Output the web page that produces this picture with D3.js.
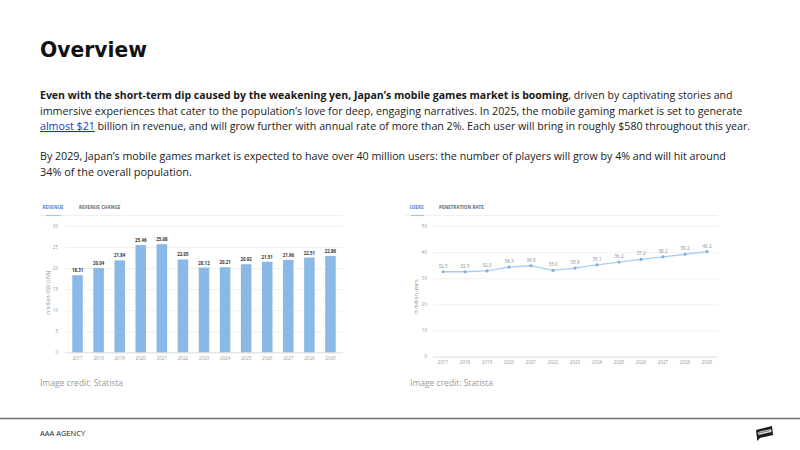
<!DOCTYPE html>
<html><head><meta charset="utf-8">
<script src="https://cdn.jsdelivr.net/npm/d3@7"></script>
<style>
html,body{margin:0;padding:0;background:#fff;}
svg{display:block;}
</style></head>
<body>
<svg id="c" width="800" height="450"></svg>
<script>
// ---------- data ----------
const years = ["2017","2018","2019","2020","2021","2022","2023","2024","2025","2026","2027","2028","2029"];
const revenue = [18.31,20.04,21.84,25.46,25.68,22.05,20.12,20.21,20.92,21.51,21.96,22.51,22.86];
const revenueTicks = [0,5,10,15,20,25,30];
const users = [32.5,32.5,32.8,34.3,34.8,33.0,33.9,35.1,36.2,37.2,38.2,39.2,40.2];
const userTicks = [0,10,20,30,40,50];
const leftTabs = ["REVENUE","REVENUE CHANGE"];
const rightTabs = ["USERS","PENETRATION RATE"];

const svg = d3.select("#c");
const FONT = "'Open Sans', 'Noto Sans', sans-serif";

// ---------- title ----------
svg.append("text").attr("x",40).attr("y",57)
  .attr("font-family","'DejaVu Sans', sans-serif").attr("font-weight","bold")
  .attr("font-size",22).attr("fill","#111").attr("textLength",107).attr("lengthAdjust","spacingAndGlyphs")
  .text("Overview");

// ---------- paragraph ----------
const lines = [
  {y:99, end:733, parts:[{t:"Even with the short-term dip caused by the weakening yen, Japan’s mobile games market is booming",b:true},{t:", driven by captivating stories and"}]},
  {y:115, end:743, parts:[{t:"immersive experiences that cater to the population’s love for deep, engaging narratives. In 2025, the mobile gaming market is set to generate"}]},
  {y:130, end:751, parts:[{t:"almost $21",link:true},{t:" billion in revenue, and will grow further with annual rate of more than 2%. Each user will bring in roughly $580 throughout this year."}]},
  {y:160, end:727, parts:[{t:"By 2029, Japan’s mobile games market is expected to have over 40 million users: the number of players will grow by 4% and will hit around"}]},
  {y:176, end:192, parts:[{t:"34% of the overall population."}]}
];
lines.forEach(l=>{
  const els = l.parts.map(p=>{
    const t = svg.append("text").attr("y",l.y).attr("x",40)
      .attr("font-family",FONT).attr("font-size",11).attr("fill","#1a1a1a")
      .attr("xml:space","preserve").style("white-space","pre").text(p.t);
    if(p.b) t.attr("font-weight","bold");
    if(p.link) t.attr("fill","#1a33d6").attr("text-decoration","underline");
    return t;
  });
  const total0 = d3.sum(els.map(e=>e.node().getComputedTextLength()));
  const fs = Math.min(11.3, 11*(l.end-40)/total0);
  els.forEach(e=>e.attr("font-size",fs));
  let x = 40;
  els.forEach(e=>{
    e.attr("x",x);
    x += e.node().getComputedTextLength();
  });
});

// ---------- left chart (bars) ----------
const yL = d3.scaleLinear().domain([0,30]).range([352.3,226]);
const xL = d3.scaleBand().domain(years).range([67,341]).paddingInner(0.5).paddingOuter(0.25);
const gL = svg.append("g");
gL.append("line").attr("x1",40).attr("x2",343).attr("y1",215.5).attr("y2",215.5).attr("stroke","#f0f0f0");
gL.append("text").attr("x",42.5).attr("y",209).attr("font-family",FONT).attr("font-size",4.6).attr("font-weight","bold").attr("fill","#4f84d4").text(leftTabs[0]);
gL.append("text").attr("x",79).attr("y",209).attr("font-family",FONT).attr("font-size",4.6).attr("font-weight","bold").attr("fill","#5c6e80").text(leftTabs[1]);
gL.append("line").attr("x1",46).attr("x2",61).attr("y1",215.5).attr("y2",215.5).attr("stroke","#9fc4ee").attr("stroke-width",1.2);
gL.selectAll("line.g").data(revenueTicks).join("line").attr("class","g")
  .attr("x1",65).attr("x2",343).attr("y1",d=>yL(d)+0.5).attr("y2",d=>yL(d)+0.5)
  .attr("stroke",d=>d===0?"#dcdcdc":"#f0f0f0").attr("stroke-width",1);
gL.selectAll("text.yt").data(revenueTicks).join("text").attr("class","yt")
  .attr("x",58).attr("y",d=>yL(d)+1.6).attr("text-anchor","end")
  .attr("font-family",FONT).attr("font-size",4.5).attr("fill","#9a9a9a").text(d=>d);
gL.append("text").attr("transform","translate(50,293) rotate(-90)").attr("text-anchor","middle")
  .attr("font-family",FONT).attr("font-size",5).attr("fill","#8a8a8a").text("in billion USD (US$)");
gL.selectAll("rect.b").data(revenue).join("rect").attr("class","b")
  .attr("x",(d,i)=>xL(years[i])).attr("width",xL.bandwidth())
  .attr("y",d=>yL(d)).attr("height",d=>yL(0)-yL(d)).attr("fill","#8bb9e7");
gL.selectAll("text.v").data(revenue).join("text").attr("class","v")
  .attr("x",(d,i)=>xL(years[i])+xL.bandwidth()/2).attr("y",d=>yL(d)-3)
  .attr("text-anchor","middle").attr("font-family",FONT).attr("font-size",4.4).attr("font-weight","bold")
  .attr("fill","#333").text(d=>d.toFixed(2));
gL.selectAll("text.xt").data(years).join("text").attr("class","xt")
  .attr("x",d=>xL(d)+xL.bandwidth()/2).attr("y",360).attr("text-anchor","middle")
  .attr("font-family",FONT).attr("font-size",4.5).attr("fill","#9a9a9a").text(d=>d);

// ---------- right chart (line) ----------
const yR = d3.scaleLinear().domain([0,50]).range([356.7,226]);
const xR = d3.scalePoint().domain(years).range([443,707]);
const gR = svg.append("g");
gR.append("line").attr("x1",405).attr("x2",718).attr("y1",215.5).attr("y2",215.5).attr("stroke","#f0f0f0");
gR.append("text").attr("x",409.5).attr("y",209).attr("font-family",FONT).attr("font-size",4.6).attr("font-weight","bold").attr("fill","#4f84d4").text(rightTabs[0]);
gR.append("text").attr("x",439).attr("y",209).attr("font-family",FONT).attr("font-size",4.6).attr("font-weight","bold").attr("fill","#5c6e80").text(rightTabs[1]);
gR.append("line").attr("x1",411).attr("x2",424).attr("y1",215.5).attr("y2",215.5).attr("stroke","#9fc4ee").attr("stroke-width",1.2);
gR.selectAll("line.g").data(userTicks).join("line").attr("class","g")
  .attr("x1",433).attr("x2",718).attr("y1",d=>yR(d)+0.5).attr("y2",d=>yR(d)+0.5)
  .attr("stroke",d=>d===0?"#dcdcdc":"#f0f0f0").attr("stroke-width",1);
gR.selectAll("text.yt").data(userTicks).join("text").attr("class","yt")
  .attr("x",427).attr("y",d=>yR(d)+1.6).attr("text-anchor","end")
  .attr("font-family",FONT).attr("font-size",4.5).attr("fill","#9a9a9a").text(d=>d);
gR.append("text").attr("transform","translate(418,297) rotate(-90)").attr("text-anchor","middle")
  .attr("font-family",FONT).attr("font-size",5).attr("fill","#8a8a8a").text("in million users");
const line = d3.line().x((d,i)=>xR(years[i])).y(d=>yR(d));
gR.append("path").datum(users).attr("d",line).attr("fill","none").attr("stroke","#a9cdf0").attr("stroke-width",1.3);
gR.selectAll("circle").data(users).join("circle")
  .attr("cx",(d,i)=>xR(years[i])).attr("cy",d=>yR(d)).attr("r",1.6).attr("fill","#7fb0e4");
gR.selectAll("text.v").data(users).join("text").attr("class","v")
  .attr("x",(d,i)=>xR(years[i])).attr("y",d=>yR(d)-4)
  .attr("text-anchor","middle").attr("font-family",FONT).attr("font-size",4.6)
  .attr("fill","#8a8a8a").text(d=>d.toFixed(1));
gR.selectAll("text.xt").data(years).join("text").attr("class","xt")
  .attr("x",d=>xR(d)).attr("y",364).attr("text-anchor","middle")
  .attr("font-family",FONT).attr("font-size",4.5).attr("fill","#9a9a9a").text(d=>d);

// ---------- credits & footer ----------
[40,410].forEach(x=>svg.append("text").attr("x",x).attr("y",386).attr("font-family",FONT)
  .attr("font-size",8.5).attr("fill","#9a9a9a").text("Image credit: Statista"));
svg.append("line").attr("x1",0).attr("x2",800).attr("y1",418.5).attr("y2",418.5).attr("stroke","#6f6f6f").attr("stroke-width",1.5);
svg.append("text").attr("x",40).attr("y",436).attr("font-family",FONT).attr("font-size",7.5).attr("fill","#222").text("AAA AGENCY");
const lg = svg.append("g").attr("transform","translate(755,426)");
lg.append("path").attr("d","M1,4 L17,0 L18,9 L5,12 L2,15 L2,12 Z").attr("fill","#1a1a1a");
lg.append("path").attr("d","M3,6 L16,3 L16.5,6 L3.5,9 Z").attr("fill","#fff").attr("opacity",0.85);
lg.append("path").attr("d","M4,7 L15,4.5").attr("stroke","#1a1a1a").attr("stroke-width",0.8).attr("stroke-dasharray","1,0.6");
</script>
</body></html>
